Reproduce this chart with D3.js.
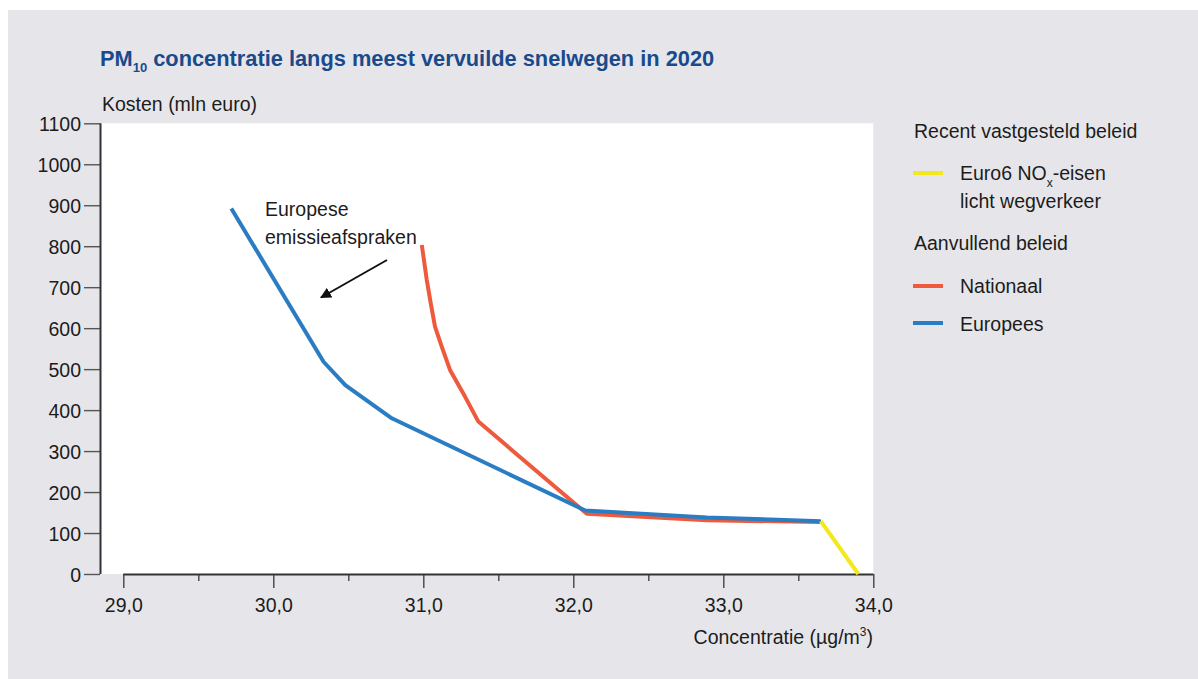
<!DOCTYPE html>
<html lang="nl">
<head>
<meta charset="utf-8">
<title>PM10 concentratie langs meest vervuilde snelwegen in 2020</title>
<script src="https://cdn.jsdelivr.net/npm/d3@7"></script>
<style>
  html, body { margin: 0; padding: 0; background: #ffffff; }
  svg { display: block; }
  text { font-family: "Liberation Sans", Arial, sans-serif; fill: #1c1c1c; }
</style>
</head>
<body>
<svg id="chart" width="1198" height="679"></svg>
<script>
// Kosten (mln euro) tegen PM10-concentratie (µg/m³)
const europeesX   = [29.72, 30.335, 30.48, 30.79, 32.08, 32.89, 33.65];
const europeesY   = [892, 518, 461, 380, 155, 138, 129];
const nationaalX  = [30.99, 31.023, 31.05, 31.078, 31.123, 31.178, 31.278, 31.367, 32.09, 32.89, 33.65];
const nationaalY  = [803, 718, 660, 604, 555, 498, 433, 372, 147, 131, 127];
const euro6X      = [33.65, 33.9];
const euro6Y      = [129, 0];

const yTicks = [0, 100, 200, 300, 400, 500, 600, 700, 800, 900, 1000, 1100];
const xTicks = [29.0, 29.5, 30.0, 30.5, 31.0, 31.5, 32.0, 32.5, 33.0, 33.5, 34.0];
const xLabelTicks = [29, 30, 31, 32, 33, 34];

const colors = { euro6: "#f4e81c", nationaal: "#ee5a3b", europees: "#2a7cc3" };

const svg = d3.select("#chart");

// panel background
svg.append("rect").attr("x", 8).attr("y", 10).attr("width", 1190).attr("height", 669)
  .attr("fill", "#e6e6ea");

const x = d3.scaleLinear().domain([29, 34]).range([123.3, 873.3]);
const y = d3.scaleLinear().domain([0, 1100]).range([574, 123.3]);

// plot area
svg.append("rect")
  .attr("x", 101).attr("y", y(1100))
  .attr("width", x(34) - 101).attr("height", y(0) - y(1100))
  .attr("fill", "#ffffff");

// title
const title = svg.append("text").attr("x", 100).attr("y", 66)
  .style("font-weight", "bold").style("font-size", "21.8px").style("fill", "#1a4a8b");
title.append("tspan").text("PM");
title.append("tspan").attr("dy", 6).style("font-size", "13px").text("10");
title.append("tspan").attr("dy", -6).text(" concentratie langs meest vervuilde snelwegen in 2020");

svg.append("text").attr("x", 102).attr("y", 111).style("font-size", "19.5px")
  .text("Kosten (mln euro)");

// y axis
const yAxis = d3.axisLeft(y).tickValues(yTicks).tickSize(16).tickPadding(3).tickSizeOuter(0)
  .tickFormat(d3.format("d"));
const gy = svg.append("g").attr("transform", "translate(100,0)").call(yAxis);
gy.select(".domain").remove();
gy.selectAll(".tick line").attr("stroke", "#555").attr("stroke-width", 1.4);
gy.selectAll(".tick text").attr("dy", "0.36em").style("font-size", "19.5px")
  .style("font-family", "'Liberation Sans', Arial, sans-serif").attr("fill", "#1c1c1c");
svg.append("line").attr("x1", 100.5).attr("x2", 100.5).attr("y1", y(0)).attr("y2", y(1100))
  .attr("stroke", "#333").attr("stroke-width", 2);

// x axis
const xAxis = d3.axisBottom(x).tickValues(xTicks).tickSizeOuter(0)
  .tickFormat(d => xLabelTicks.includes(d) ? d3.format(".1f")(d).replace(".", ",") : "");
const gx = svg.append("g").attr("transform", `translate(0,${y(0)})`).call(xAxis);
gx.select(".domain").remove();
gx.selectAll(".tick line")
  .attr("y2", d => xLabelTicks.includes(d) ? 14 : 7)
  .attr("stroke", "#444").attr("stroke-width", 1.4);
gx.selectAll(".tick text").attr("y", 24).style("font-size", "19.5px")
  .style("font-family", "'Liberation Sans', Arial, sans-serif").attr("fill", "#1c1c1c");
svg.append("line").attr("x1", x(29)).attr("x2", x(34)).attr("y1", y(0) + 0.5).attr("y2", y(0) + 0.5)
  .attr("stroke", "#333").attr("stroke-width", 2);

const xTitle = svg.append("text").attr("x", 873).attr("y", 644).attr("text-anchor", "end")
  .style("font-size", "19.5px");
xTitle.append("tspan").text("Concentratie (µg/m");
xTitle.append("tspan").attr("dy", -8).style("font-size", "12px").text("3");
xTitle.append("tspan").attr("dy", 8).text(")");

// series lines
const line = d3.line().x(d => x(d[0])).y(d => y(d[1]));
const series = [
  { key: "nationaal", xs: nationaalX, ys: nationaalY },
  { key: "europees",  xs: europeesX,  ys: europeesY },
  { key: "euro6",     xs: euro6X,     ys: euro6Y }
];
series.forEach(s => {
  svg.append("path")
    .datum(s.xs.map((v, i) => [v, s.ys[i]]))
    .attr("d", line)
    .attr("fill", "none")
    .attr("stroke", colors[s.key])
    .attr("stroke-width", 4)
    .attr("stroke-linejoin", "round");
});

// annotation with arrow
svg.append("defs").append("marker")
  .attr("id", "arrowhead").attr("viewBox", "0 0 10 10")
  .attr("refX", 9).attr("refY", 5)
  .attr("markerWidth", 5.5).attr("markerHeight", 5.5)
  .attr("orient", "auto")
  .append("path").attr("d", "M0,0 L10,5 L0,10 Z").attr("fill", "#111");
svg.append("text").attr("x", 265).attr("y", 216).style("font-size", "19.5px").text("Europese");
svg.append("text").attr("x", 265).attr("y", 244).style("font-size", "19.5px").text("emissieafspraken");
svg.append("line").attr("x1", 387).attr("y1", 260).attr("x2", 321).attr("y2", 297.5)
  .attr("stroke", "#111").attr("stroke-width", 2).attr("marker-end", "url(#arrowhead)");

// legend
const leg = svg.append("g").style("font-size", "19.5px");
leg.append("text").attr("x", 914).attr("y", 138).text("Recent vastgesteld beleid");
leg.append("line").attr("x1", 913).attr("x2", 943).attr("y1", 173).attr("y2", 173)
  .attr("stroke", colors.euro6).attr("stroke-width", 4);
const e6 = leg.append("text").attr("x", 960).attr("y", 180);
e6.append("tspan").text("Euro6 NO");
e6.append("tspan").attr("dy", 7).style("font-size", "12px").text("x");
e6.append("tspan").attr("dy", -7).text("-eisen");
leg.append("text").attr("x", 960).attr("y", 208).text("licht wegverkeer");
leg.append("text").attr("x", 914).attr("y", 250).text("Aanvullend beleid");
leg.append("line").attr("x1", 913).attr("x2", 943).attr("y1", 286).attr("y2", 286)
  .attr("stroke", colors.nationaal).attr("stroke-width", 4);
leg.append("text").attr("x", 960).attr("y", 293).text("Nationaal");
leg.append("line").attr("x1", 913).attr("x2", 943).attr("y1", 323).attr("y2", 323)
  .attr("stroke", colors.europees).attr("stroke-width", 4);
leg.append("text").attr("x", 960).attr("y", 331).text("Europees");
</script>
</body>
</html>
